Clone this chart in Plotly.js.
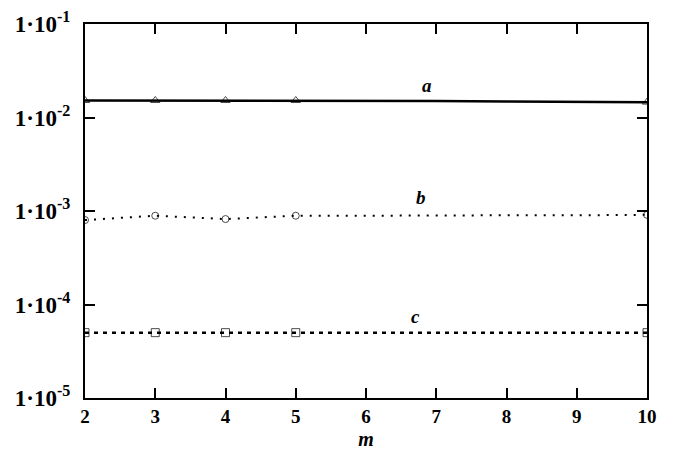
<!DOCTYPE html>
<html>
<head>
<meta charset="utf-8">
<script src="https://cdn.plot.ly/plotly-3.0.1.min.js"></script>
<style>html,body{margin:0;padding:0;background:#fff;}#chart{width:678px;height:460px;}</style>
</head>
<body>
<div id="chart"></div>
<script>
// Data
const m = [2, 3, 4, 5, 6, 7, 8, 9, 10];
const seriesA = [0.0152, 0.0152, 0.0152, 0.0152, 0.0151, 0.0150, 0.0148, 0.0147, 0.0146];
const seriesB = [0.00080, 0.00089, 0.00082, 0.00089, 0.00089, 0.00090, 0.00090, 0.00090, 0.00091];
const seriesC = [5.0e-5, 5.0e-5, 5.0e-5, 5.0e-5, 5.0e-5, 5.0e-5, 5.0e-5, 5.0e-5, 5.0e-5];
const markedM = [2, 3, 4, 5, 10];
const seriesLabels = ['a', 'b', 'c'];
const labelM = [6.87, 6.78, 6.70];
const labelY = [0.0218, 0.00138, 7.5e-5];
const yTickVals = [1e-5, 1e-4, 1e-3, 1e-2, 1e-1];
const yTickText = ['1·10<sup>-5</sup>', '1·10<sup>-4</sup>', '1·10<sup>-3</sup>', '1·10<sup>-2</sup>', '1·10<sup>-1</sup>'];
const xTickVals = [2, 3, 4, 5, 6, 7, 8, 9, 10];

function markerSizes(xs, size) {
  return xs.map(v => markedM.includes(v) ? size : 0);
}

const serif = 'Liberation Serif, DejaVu Serif, serif';

const traces = [
  {x: m, y: seriesA, mode: 'lines+markers', line: {color: '#000', width: 2.5},
   marker: {symbol: 'triangle-up-open', size: markerSizes(m, 8), color: '#000', line: {width: 1}}},
  {x: m, y: seriesB, mode: 'lines+markers', line: {color: '#000', width: 2, dash: '2px,7px'},
   marker: {symbol: 'circle-open', size: markerSizes(m, 7), color: '#000', line: {width: 1}}},
  {x: m, y: seriesC, mode: 'lines+markers', line: {color: '#000', width: 2.5, dash: '4px,5px'},
   marker: {symbol: 'square-open', size: markerSizes(m, 8), color: '#000', line: {width: 1}}}
];

const annotations = seriesLabels.map((t, i) => ({
  x: labelM[i], y: Math.log10(labelY[i]), xref: 'x', yref: 'y', text: '<b><i>' + t + '</i></b>',
  showarrow: false, font: {family: serif, size: 19, color: '#000'}
}));

const layout = {
  width: 678, height: 460,
  margin: {l: 85, r: 31, t: 24, b: 62},
  paper_bgcolor: '#fff', plot_bgcolor: '#fff',
  showlegend: false,
  xaxis: {
    range: [2, 10], tickvals: xTickVals, ticktext: xTickVals.map(v => '<b>' + v + '</b>'),
    ticks: 'inside', ticklen: 10, tickwidth: 2, tickcolor: '#000',
    showline: true, linewidth: 2, linecolor: '#000', mirror: 'ticks',
    showgrid: false, zeroline: false,
    tickfont: {family: serif, size: 19, color: '#000'},
    title: {text: '<b><i>m</i></b>', font: {family: serif, size: 20, color: '#000'}, standoff: 6}
  },
  yaxis: {
    type: 'log', range: [-5, -1], tickvals: yTickVals, ticktext: yTickText.map(s => '<b>' + s + '</b>'),
    ticks: 'inside', ticklen: 10, tickwidth: 2, tickcolor: '#000',
    showline: true, linewidth: 2, linecolor: '#000', mirror: 'ticks',
    showgrid: false, zeroline: false, ticklabelstandoff: 8,
    tickfont: {family: serif, size: 23, color: '#000'}
  },
  annotations: annotations
};

Plotly.newPlot('chart', traces, layout, {displayModeBar: false});
</script>
</body>
</html>
